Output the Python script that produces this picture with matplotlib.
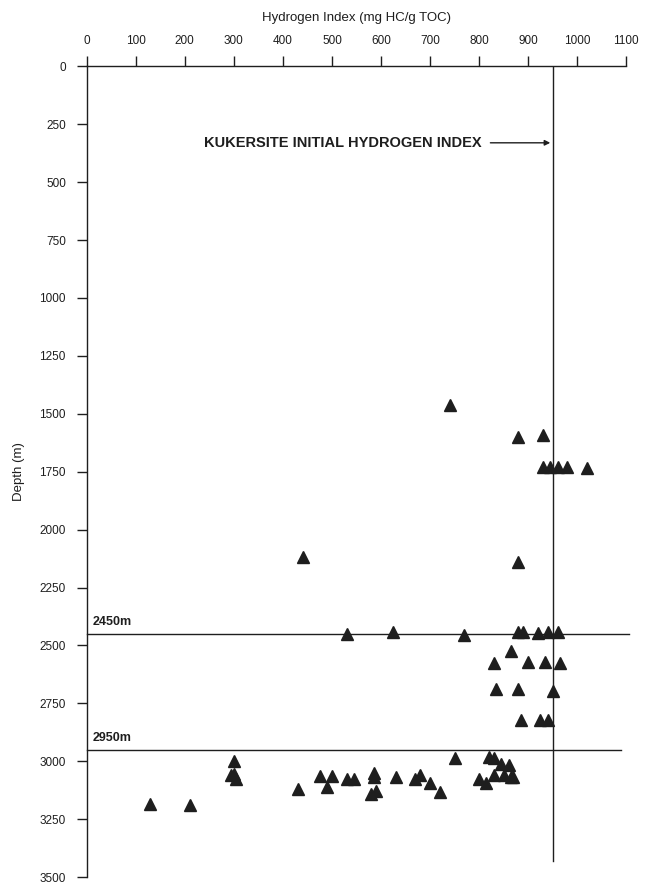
import matplotlib
matplotlib.use("Agg")
import matplotlib.pyplot as plt

plt.rcParams['font.family'] = ['Liberation Sans', 'DejaVu Sans']

# Hydrogen index (mg HC/g TOC) and depth (m) of the samples
hydrogen_index = [
    740,
    880, 930,
    930, 945, 960, 980, 1020,
    440, 880,
    530, 625, 770, 880, 890, 920, 940, 960,
    865,
    830, 900, 935, 965,
    835, 880, 950,
    885, 925, 940,
    300, 750, 820, 830, 845, 860,
    295, 300, 305,
    430, 475, 500, 490, 530, 545,
    585, 585, 580, 590, 630, 670, 680, 700, 720,
    800, 815, 830, 850, 865, 870,
    130, 210,
]
depth = [
    1460,
    1600, 1590,
    1730, 1730, 1730, 1730, 1735,
    2120, 2140,
    2450, 2440, 2455, 2440, 2440, 2445, 2440, 2440,
    2525,
    2575, 2570, 2570, 2575,
    2690, 2690, 2695,
    2820, 2820, 2820,
    3000, 2985, 2980, 2985, 3010, 3015,
    3060, 3055, 3075,
    3120, 3065, 3065, 3110, 3075, 3075,
    3050, 3070, 3140, 3130, 3070, 3075, 3060, 3095, 3135,
    3075, 3095, 3060, 3060, 3070, 3070,
    3185, 3190,
]

x_ticks = [0, 100, 200, 300, 400, 500, 600, 700, 800, 900, 1000, 1100]
y_ticks = [0, 250, 500, 750, 1000, 1250, 1500, 1750, 2000, 2250, 2500, 2750, 3000, 3250, 3500]

kukersite_hi = 950
boundary_depths = [2450, 2950]
boundary_labels = ["2450m", "2950m"]
boundary_ends = [1105, 1090]

ink = "#1e1e1e"

fig = plt.figure(figsize=(6.47, 8.85), dpi=100)
ax = fig.add_axes([0.134, 0.009, 0.834, 0.916])

ax.set_xlim(0, 1100)
ax.set_ylim(3500, 0)

for side in ("right", "bottom"):
    ax.spines[side].set_visible(False)
for side in ("left", "top"):
    ax.spines[side].set_linewidth(1.0)
    ax.spines[side].set_color(ink)

ax.xaxis.tick_top()
ax.xaxis.set_label_position("top")
ax.set_xticks(x_ticks)
ax.set_yticks(y_ticks)
ax.tick_params(axis="x", direction="out", length=7, width=1.0, pad=7,
               labelsize=8.5, colors=ink)
ax.tick_params(axis="y", direction="out", length=7, width=1.0, pad=8,
               labelsize=8.5, colors=ink)

ax.set_xlabel("Hydrogen Index (mg HC/g TOC)", fontsize=9.5, labelpad=10, color=ink)
ax.set_ylabel("Depth (m)", fontsize=9.5, labelpad=10, color=ink)

# Kukersite reference line
ax.plot([kukersite_hi, kukersite_hi], [0, 3430], color=ink, lw=1.0)

# Horizon boundaries
for d, lab, end in zip(boundary_depths, boundary_labels, boundary_ends):
    ax.plot([0, end], [d, d], color=ink, lw=1.0, clip_on=False)
    ax.text(12, d - 25, lab, fontsize=9, fontweight="bold", color=ink,
            ha="left", va="bottom")

ax.annotate("KUKERSITE INITIAL HYDROGEN INDEX",
            xy=(kukersite_hi - 5, 330), xytext=(240, 330),
            fontsize=10.5, fontweight="bold", color=ink, va="center", ha="left",
            arrowprops=dict(arrowstyle="-|>", color=ink, lw=1.0,
                            mutation_scale=8, shrinkA=4, shrinkB=0))

ax.plot(hydrogen_index, depth, linestyle="none", marker="^", markersize=8,
        color=ink, markeredgecolor=ink)

fig.savefig("out.png", dpi=100)
